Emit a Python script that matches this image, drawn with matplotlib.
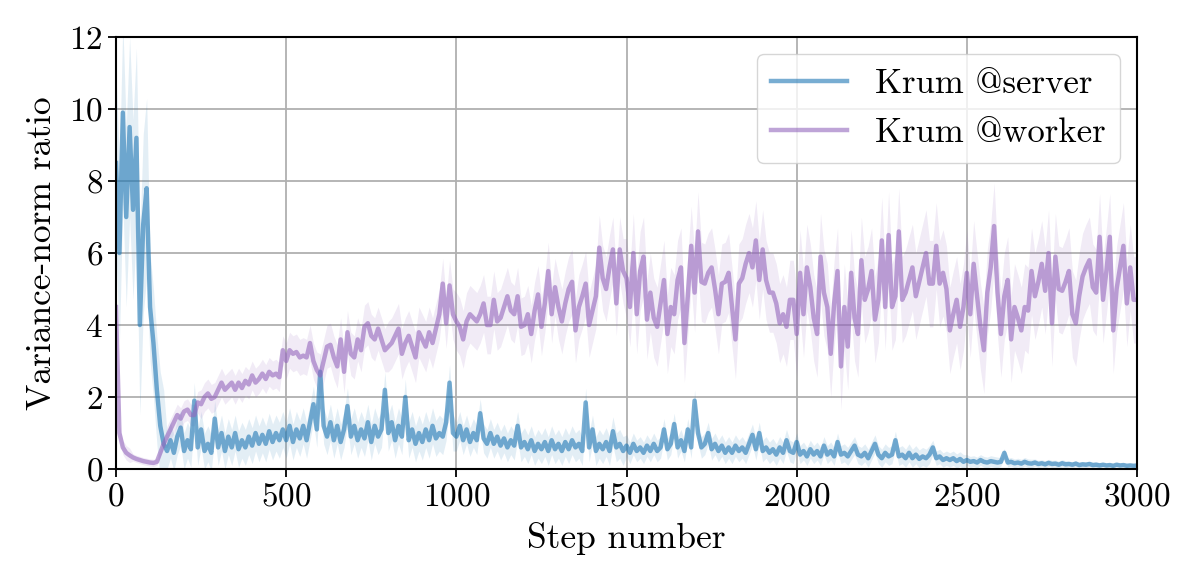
import numpy as np
import matplotlib
matplotlib.use("Agg")
import matplotlib.pyplot as plt

plt.rcParams['font.family'] = ['cmr10', 'DejaVu Serif']
plt.rcParams['mathtext.fontset'] = 'cm'
plt.rcParams['axes.unicode_minus'] = False
plt.rcParams['axes.formatter.use_mathtext'] = True

# steps sampled every 10
steps = np.arange(0, 3001, 10)

# Krum @server
server = [
    8.5, 6.0, 9.9, 7.0, 9.5, 7.2, 9.2, 4.0, 6.8, 7.8,
    4.5, 3.5, 2.2, 1.2, 0.7, 0.5, 0.8, 0.45, 0.9, 1.15,
    0.5, 0.8, 0.55, 1.9, 0.6, 1.1, 0.5, 0.7, 0.45, 1.4,
    0.6, 1.0, 0.5, 0.9, 0.6, 1.0, 0.55, 0.8, 0.6, 0.9,
    0.65, 1.0, 0.7, 0.95, 0.7, 1.05, 0.75, 1.0, 0.8, 1.1,
    0.8, 1.2, 0.75, 1.1, 0.85, 1.2, 0.8, 1.3, 1.8, 1.1,
    2.7, 1.2, 0.9, 1.3, 0.8, 1.2, 0.75, 1.1, 1.75, 0.9,
    1.2, 0.8, 1.1, 0.85, 1.3, 0.75, 1.2, 0.9, 1.1, 2.2,
    1.0, 1.3, 0.8, 1.2, 0.9, 2.0, 0.8, 1.1, 0.7, 1.0,
    0.75, 1.1, 0.8, 1.2, 0.85, 1.0, 0.9, 1.3, 2.4, 1.0,
    0.9, 1.2, 0.8, 1.1, 0.75, 1.0, 0.8, 1.55, 0.85, 0.7,
    1.0, 0.7, 0.9, 0.65, 0.85, 0.6, 0.8, 0.65, 1.2, 0.6,
    0.75, 0.55, 0.8, 0.5, 0.7, 0.55, 0.75, 0.5, 0.8, 0.55,
    0.7, 0.5, 0.75, 0.55, 0.8, 0.6, 0.7, 0.5, 1.85, 0.6,
    1.1, 0.5, 0.7, 0.55, 0.75, 0.5, 1.05, 0.6, 0.7, 0.5,
    0.65, 0.45, 0.7, 0.5, 0.6, 0.45, 0.65, 0.5, 0.7, 0.5,
    0.6, 1.1, 0.55, 0.7, 1.25, 0.6, 0.8, 0.5, 1.1, 0.6,
    1.9, 1.0, 0.6, 0.7, 1.0, 0.55, 0.7, 0.5, 0.65, 0.45,
    0.6, 0.45, 0.65, 0.5, 0.6, 0.45, 0.7, 0.95, 0.55, 1.0,
    0.5, 0.6, 0.45, 0.55, 0.4, 0.6, 0.45, 0.8, 0.5, 0.45,
    0.75, 0.4, 0.5, 0.35, 0.55, 0.4, 0.5, 0.35, 0.65, 0.4,
    0.5, 0.35, 0.75, 0.4, 0.45, 0.35, 0.5, 0.65, 0.4, 0.35,
    0.45, 0.3, 0.5, 0.7, 0.4, 0.3, 0.45, 0.35, 0.4, 0.8,
    0.35, 0.4, 0.3, 0.45, 0.3, 0.4, 0.28, 0.35, 0.3, 0.4,
    0.6, 0.3, 0.35, 0.25, 0.3, 0.25, 0.3, 0.22, 0.28, 0.2,
    0.25, 0.2, 0.22, 0.18, 0.25, 0.2, 0.18, 0.22, 0.2, 0.18,
    0.2, 0.45, 0.18, 0.2, 0.16, 0.18, 0.15, 0.2, 0.16, 0.15,
    0.18, 0.14, 0.16, 0.13, 0.17, 0.14, 0.15, 0.12, 0.16, 0.13,
    0.14, 0.12, 0.15, 0.11, 0.13, 0.12, 0.14, 0.11, 0.12, 0.1,
    0.12, 0.1, 0.11, 0.09, 0.12, 0.1, 0.11, 0.09, 0.1, 0.09,
    0.1,
]

# Krum @worker
worker = [
    4.5, 1.0, 0.6, 0.45, 0.38, 0.32, 0.28, 0.25, 0.22, 0.2,
    0.18, 0.17, 0.2, 0.45, 0.7, 0.9, 1.1, 1.3, 1.5, 1.4,
    1.6, 1.65, 1.5, 1.5, 1.85, 1.8, 2.0, 2.1, 1.95, 2.0,
    2.2, 2.4, 2.2, 2.3, 2.4, 2.2, 2.4, 2.25, 2.45, 2.35,
    2.6, 2.4, 2.5, 2.65, 2.5, 2.7, 2.6, 2.65, 2.55, 3.3,
    3.0, 3.3, 3.2, 3.25, 3.1, 3.15, 3.1, 3.5, 3.0, 2.75,
    2.6, 3.0, 3.4, 3.45, 3.1, 2.85, 3.6, 2.7, 3.8, 3.2,
    3.1, 3.6, 3.3, 3.95, 4.05, 3.7, 3.6, 3.9, 3.6, 3.3,
    3.4, 3.5, 3.7, 3.9, 3.2, 3.5, 3.7, 3.4, 3.1, 3.8,
    3.6, 3.4, 3.8, 3.5, 3.9, 4.3, 5.15, 4.05, 5.1, 4.3,
    4.1, 3.95, 3.6, 4.1, 4.3, 4.2, 4.1, 4.3, 4.6, 4.0,
    4.0, 4.7, 4.1, 4.2, 4.5, 4.8, 4.4, 4.3, 4.8, 3.95,
    4.0, 4.3, 3.75, 4.4, 4.85, 3.95, 4.6, 5.5, 4.3, 5.05,
    4.5, 4.1, 4.6, 5.0, 5.2, 3.85, 4.5, 4.8, 5.15, 4.0,
    4.4, 4.8, 6.15, 5.3, 5.0, 5.6, 6.1, 4.6, 6.1, 5.5,
    5.3, 4.5, 6.0, 4.3, 5.5, 5.9, 4.15, 4.9, 4.2, 3.95,
    4.6, 5.25, 3.75, 4.5, 4.3, 5.25, 5.6, 3.5, 4.8, 6.2,
    4.9, 6.6, 5.2, 5.15, 5.45, 5.6, 5.0, 4.3, 5.15, 5.2,
    5.45, 4.5, 3.6, 5.15, 5.3, 5.7, 6.0, 5.6, 6.35, 5.25,
    6.1, 5.25, 4.9, 4.9, 4.6, 4.05, 4.3, 3.95, 4.7, 4.7,
    3.75, 5.45, 4.3, 5.6, 5.05, 4.2, 3.75, 5.9, 4.9, 4.5,
    3.2, 4.6, 5.5, 2.85, 4.5, 3.4, 5.45, 4.2, 3.75, 5.8,
    4.7, 5.0, 5.5, 4.15, 4.7, 6.35, 4.5, 6.5, 4.5, 4.8,
    6.6, 4.7, 4.9, 5.25, 5.6, 4.8, 5.2, 5.6, 6.0, 5.15,
    5.15, 6.2, 5.15, 5.45, 5.0, 3.85, 4.3, 4.7, 3.95, 4.5,
    5.45, 4.3, 5.7, 4.8, 3.95, 3.3, 4.9, 5.6, 6.75, 4.9,
    3.75, 4.8, 5.25, 3.6, 4.5, 4.2, 3.85, 4.5, 4.4, 5.5,
    4.8, 5.2, 5.7, 4.95, 6.0, 4.05, 5.9, 5.0, 4.95, 5.2,
    5.5, 4.3, 4.05, 4.8, 5.35, 5.6, 5.8, 5.05, 4.9, 6.45,
    4.7, 5.5, 6.45, 3.85, 5.0, 5.6, 6.2, 4.6, 5.6, 4.7,
    4.7,
]

# half-width of the shaded band, one value per 50 steps (0..3000)
server_spread = [
    2.5, 2.5, 1.5, 0.5, 0.5, 0.5, 0.5, 0.5, 0.5, 0.5,
    0.5, 0.5, 0.5, 0.5, 0.5, 0.5, 0.5, 0.5, 0.5, 0.5,
    0.4, 0.4, 0.4, 0.4, 0.4, 0.4, 0.4, 0.4, 0.4, 0.4,
    0.3, 0.3, 0.3, 0.3, 0.3, 0.3, 0.3, 0.3, 0.3, 0.3,
    0.25, 0.25, 0.25, 0.25, 0.25, 0.25, 0.25, 0.25, 0.2, 0.2,
    0.15, 0.15, 0.12, 0.12, 0.1, 0.1, 0.08, 0.08, 0.06, 0.06,
    0.05,
]
worker_spread = [
    0.2, 0.1, 0.1, 0.3, 0.3, 0.4, 0.4, 0.4, 0.4, 0.4,
    0.5, 0.5, 0.6, 0.6, 0.6, 0.6, 0.7, 0.7, 0.7, 0.7,
    0.8, 0.8, 0.8, 0.8, 0.8, 0.8, 0.9, 0.9, 0.9, 0.9,
    1.1, 1.1, 1.1, 1.1, 1.1, 1.1, 1.1, 1.1, 1.1, 1.1,
    1.2, 1.2, 1.2, 1.2, 1.2, 1.2, 1.2, 1.2, 1.2, 1.2,
    1.2, 1.2, 1.2, 1.2, 1.2, 1.2, 1.2, 1.2, 1.2, 1.2,
    1.2,
]

server = np.array(server)
worker = np.array(worker)
s_sd = np.repeat(server_spread, 5)[:len(steps)]
w_sd = np.repeat(worker_spread, 5)[:len(steps)]

fig = plt.figure(figsize=(11.96, 5.83), dpi=100)
ax = fig.add_axes([0.097, 0.1955, 0.8537, 0.741])

blue = 'tab:blue'
purple = 'tab:purple'

ax.fill_between(steps, server - s_sd, server + s_sd, color=blue, alpha=0.12, lw=0)
ax.fill_between(steps, worker - w_sd, worker + w_sd, color=purple, alpha=0.13, lw=0)
ax.plot(steps, server, color=blue, alpha=0.6, lw=3.2, label='Krum @server')
ax.plot(steps, worker, color=purple, alpha=0.6, lw=3.2, label='Krum @worker')

ax.set_xlim(0, 3000)
ax.set_ylim(0, 12)
ax.set_xticks(np.arange(0, 3001, 500))
ax.set_yticks(np.arange(0, 13, 2))
ax.grid(True, color='#b0b0b0', lw=1.3)
ax.set_axisbelow(True)
ax.tick_params(labelsize=24, length=6, width=1.3)
for sp in ax.spines.values():
    sp.set_linewidth(1.5)

ax.set_xlabel('Step number', fontsize=25.5, labelpad=8)
ax.set_ylabel('Variance-norm ratio', fontsize=25.5, labelpad=8)

leg = ax.legend(loc='upper right', fontsize=25, framealpha=0.8,
                borderaxespad=0.5, handlelength=2.2, labelspacing=0.5)

fig.savefig('out.png', dpi=100)
